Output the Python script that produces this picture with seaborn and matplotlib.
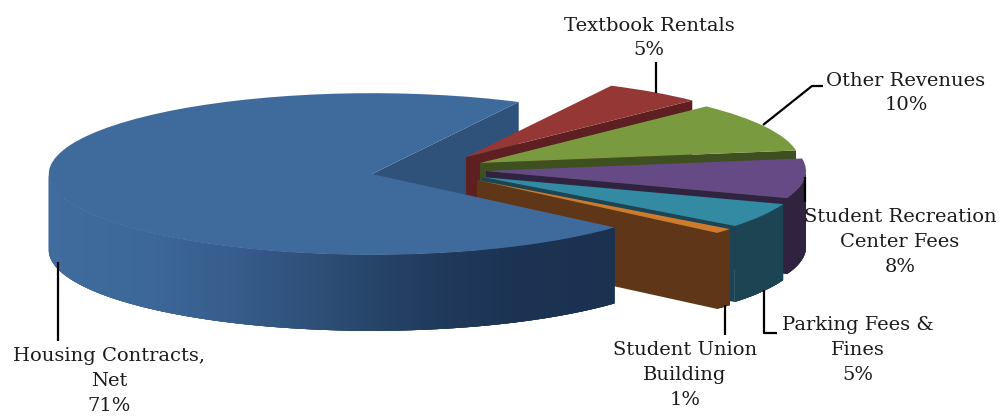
"""Exploded 3D-look pie of revenue shares, drawn with ax.pie plus extruded walls."""

import matplotlib
matplotlib.use("Agg")
import matplotlib.pyplot as plt
import numpy as np
import seaborn as sns

NAMES = ["Housing Contracts,\nNet", "Student Union\nBuilding", "Parking Fees &\nFines",
         "Student Recreation\nCenter Fees", "Other Revenues", "Textbook Rentals"]
SHARES = [71, 1, 5, 8, 10, 5]

TOP_COLOURS = ["#3f6a9c", "#cf7b2c", "#338aa3", "#654a85", "#7a9a3f", "#953735"]
FACE_COLOURS = ["#2e5279", "#5f3617", "#1c4452", "#2f2340", "#3e4f20", "#5e1f20"]
WALL_COLOURS = [
    ["#3f6b9d", "#3c6899", "#365c8a", "#2c4c73", "#213b5d", "#1b3252", "#1b3150"],
    ["#5f3617", "#5f3617"],
    ["#1c4452", "#1c4452"],
    ["#2f2340", "#2f2340"],
    ["#3e4f20", "#3e4f20"],
    ["#5e1f20", "#5e1f20"],
]

# wedge tips in pixels of the 1002x417 canvas
TIPS = [(372, 174), (477, 180), (482, 177), (486, 171), (480, 163), (466, 157)]
RADII = [1.01, 1, 1, 1, 1, 1]
START_ANGLE = 63
RX, RY, DEPTH = 320, 80, 76

# label centre, in pixels
LABEL_POS = [(109, 381), (685, 375), (858, 350), (900, 242), (906, 93), (649, 38)]
LEADERS = [
    [(58, 262), (58, 341)],
    [(725, 305), (725, 335)],
    [(764, 290), (764, 333), (777, 333)],
    [(805, 177), (805, 202)],
    [(763, 125), (812, 86), (823, 86)],
    [(656, 62), (656, 93)],
]

sns.set_theme(style="white")
plt.rcParams["font.family"] = ["DejaVu Serif"]


def to_x(px):
    return (np.asarray(px, dtype=float) - 370) / RX


def to_y(py):
    return (175 - np.asarray(py, dtype=float)) / RY


def draw_wall(ax, tip, r, theta1, theta2, colours, zorder):
    """Outer rim below the top face, only where it faces the viewer."""
    steps = np.arange(theta1, theta2 + 0.75, 0.75)
    steps = np.clip(steps, theta1, theta2)
    steps = steps[np.sin(np.radians(steps)) <= 0.005]
    if len(steps) < 2:
        return
    cmap = sns.blend_palette(colours, as_cmap=True)
    xs = tip[0] + r * np.cos(np.radians(steps))
    ys = tip[1] + r * np.sin(np.radians(steps))
    span = max(xs.max() - xs.min(), 1e-6)
    drop = DEPTH / RY
    # solid base under the strips, then strips that overlap so no seams show
    ax.fill(np.r_[xs, xs[::-1]], np.r_[ys, ys[::-1] - drop],
            color=cmap(0.5), lw=0, zorder=zorder)
    for i in range(len(steps) - 1):
        j = min(i + 3, len(steps) - 1)
        c = cmap((xs[i] - xs.min()) / span)
        seg_x = xs[i:j + 1]
        seg_y = ys[i:j + 1]
        ax.fill(np.r_[seg_x, seg_x[::-1]], np.r_[seg_y, seg_y[::-1] - drop],
                color=c, lw=0, zorder=zorder)


def draw_face(ax, tip, r, theta, colour, zorder):
    """Radial cut face on the clockwise side of a wedge."""
    drop = DEPTH / RY
    rx = tip[0] + r * np.cos(np.radians(theta))
    ry = tip[1] + r * np.sin(np.radians(theta))
    ax.fill([tip[0], rx, rx, tip[0]], [tip[1], ry, ry - drop, tip[1] - drop],
            color=colour, lw=0, zorder=zorder)


def main():
    fig = plt.figure(figsize=(10.02, 4.17), dpi=100)
    ax = fig.add_axes([0, 0, 1, 1])
    wedges, _ = ax.pie(SHARES, colors=TOP_COLOURS, startangle=START_ANGLE, counterclock=True,
                       wedgeprops={"linewidth": 0})
    ax.set_aspect("auto")
    ax.set_xlim(to_x(0), to_x(1002))
    ax.set_ylim(to_y(417), to_y(0))
    ax.axis("off")

    # back wedges first, the big one goes on top of all the small ones
    n = len(wedges)
    for i, w in enumerate(wedges):
        tip = (to_x(TIPS[i][0]), to_y(TIPS[i][1]))
        r = RADII[i]
        w.set_center(tip)
        w.set_radius(r)
        base = 20 if i == 0 else 2 + 3 * (n - i)
        draw_face(ax, tip, r, w.theta1, FACE_COLOURS[i], 1 if i == 0 else base)
        draw_wall(ax, tip, r, w.theta1, w.theta2, WALL_COLOURS[i], base + 1)
        w.set_zorder(base + 2)

    for path in LEADERS:
        xs, ys = zip(*path)
        ax.plot(to_x(xs), to_y(ys), color="black", lw=1.6, zorder=40, solid_capstyle="butt")

    for name, share, (px, py) in zip(NAMES, SHARES, LABEL_POS):
        ax.text(to_x(px), to_y(py), f"{name}\n{share}%", ha="center", va="center",
                fontsize=14, color="#1a1a1a", linespacing=1.48, zorder=50)

    fig.savefig("out.png", dpi=100)
    plt.close(fig)


if __name__ == "__main__":
    main()
